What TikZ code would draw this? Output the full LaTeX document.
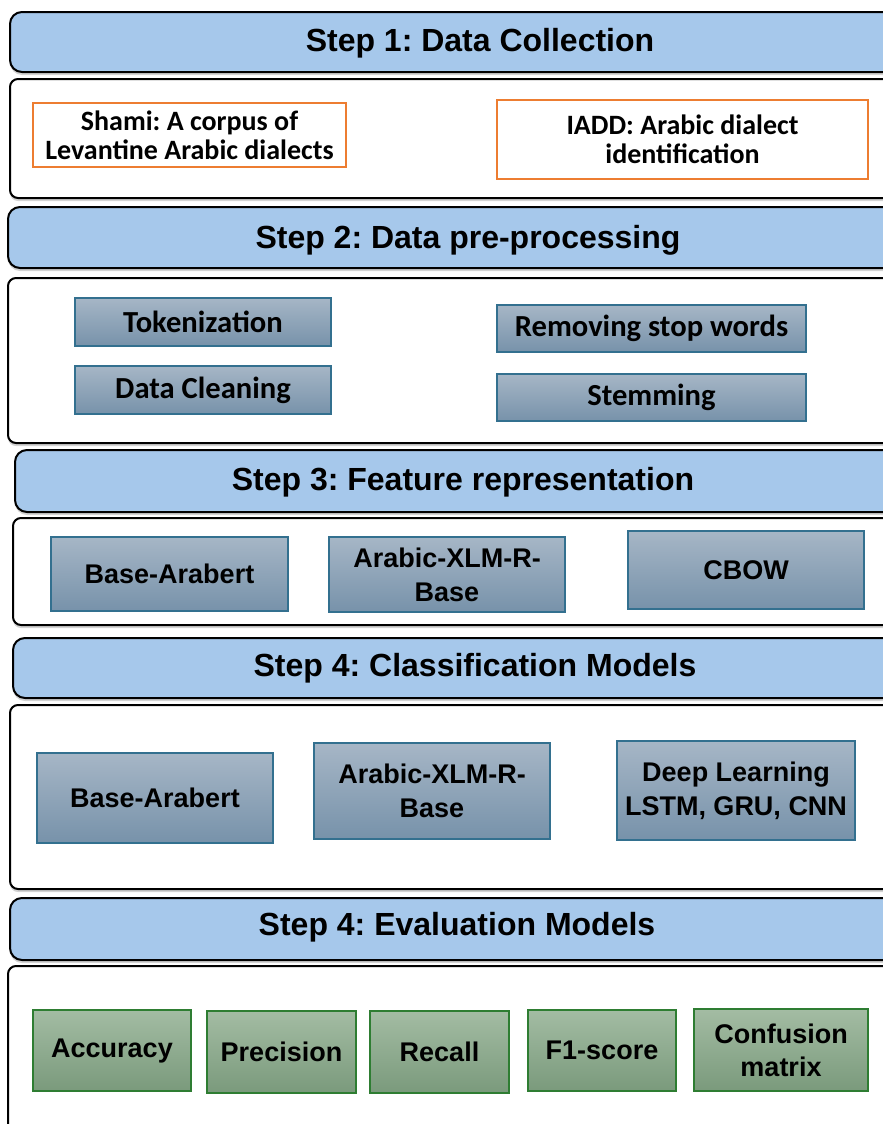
\documentclass[tikz,border=0pt]{standalone}
\usepackage{fontspec}
\setmainfont{Liberation Sans}
\newfontfamily\aptosfont{Carlito}
\usetikzlibrary{shadows}
\frenchspacing

\definecolor{headblue}{HTML}{A6C8EB}
\definecolor{srcorange}{HTML}{ED7D31}
\definecolor{boxedge}{HTML}{33708F}
\definecolor{boxtop}{HTML}{A6B6C6}
\definecolor{boxbot}{HTML}{7792AA}
\definecolor{greenedge}{HTML}{2E7D32}
\definecolor{greentop}{HTML}{A3BCA3}
\definecolor{greenbot}{HTML}{7A9A7C}

\tikzset{
  header/.style={draw=black, line width=1pt, fill=headblue, rounded corners=6pt,
    drop shadow={shadow xshift=0pt, shadow yshift=-1.5pt, opacity=.35}},
  panel/.style={draw=black, line width=1pt, fill=white, rounded corners=4pt,
    drop shadow={shadow xshift=0pt, shadow yshift=-1.5pt, opacity=.35}},
  headtext/.style={font=\fontsize{16}{18}\selectfont\bfseries},
  srcbox/.style={draw=srcorange, line width=.9pt, fill=white, inner sep=0pt, align=center,
    font=\aptosfont\fontsize{14}{14.5}\selectfont\bfseries},
  prepbox/.style={draw=boxedge, line width=.7pt, top color=boxtop, bottom color=boxbot,
    inner sep=0pt, align=center, font=\aptosfont\fontsize{15.3}{17}\selectfont\bfseries},
  modelbox/.style={draw=boxedge, line width=.7pt, top color=boxtop, bottom color=boxbot,
    inner sep=0pt, align=center, font=\fontsize{13.5}{17}\selectfont\bfseries},
  metricbox/.style={draw=greenedge, line width=.8pt, top color=greentop, bottom color=greenbot,
    inner sep=0pt, align=center, font=\fontsize{13.5}{16.5}\selectfont\bfseries}
}

\begin{document}
\begin{tikzpicture}[x=0.5pt,y=-0.5pt]
\useasboundingbox (0,0) rectangle (883,1124);
\clip (0,0) rectangle (883,1124);

% Step 1
\draw[header] (10,12) rectangle (900,72);
\node[headtext] (head1) at (480,43) {Step 1: Data Collection};
\draw[panel] (10,79) rectangle (900,198);
\node[srcbox, minimum width=156.5pt, minimum height=32pt] (shami) at (189.5,135)
  {Shami: A corpus of\\Levantine Arabic dialects};
\node[srcbox, minimum width=185.5pt, minimum height=39.5pt] (iadd) at (682.5,139.5)
  {IADD: Arabic dialect\\identification};

% Step 2
\draw[header] (8,207) rectangle (900,268);
\node[headtext] (head2) at (468,240) {Step 2: Data pre-processing};
\draw[panel] (8,278) rectangle (900,443);
\node[prepbox, minimum width=128pt, minimum height=24pt] (token) at (203,322) {Tokenization};
\node[prepbox, minimum width=128pt, minimum height=24pt] (clean) at (203,390) {Data Cleaning};
\node[prepbox, minimum width=154.5pt, minimum height=23.5pt] (stop) at (651.5,328.5) {Removing stop words};
\node[prepbox, minimum width=154.5pt, minimum height=23.5pt] (stem) at (651.5,397.5) {Stemming};

% Step 3
\draw[header] (15,450) rectangle (900,512);
\node[headtext] (head3) at (463,482) {Step 3: Feature representation};
\draw[panel] (13,518) rectangle (900,625);
\node[modelbox, minimum width=118.5pt, minimum height=37pt] (fbert) at (169.5,574) {Base-Arabert};
\node[modelbox, minimum width=118pt, minimum height=37.5pt] (fxlm) at (447,574.5) {Arabic-XLM-R-\\Base};
\node[modelbox, minimum width=118pt, minimum height=39pt] (cbow) at (746,570) {CBOW};

% Step 4
\draw[header] (13,638) rectangle (900,698);
\node[headtext] (head4) at (475,668) {Step 4: Classification Models};
\draw[panel] (10,705) rectangle (900,889);
\node[modelbox, minimum width=118pt, minimum height=45pt] (cbert) at (155,798) {Base-Arabert};
\node[modelbox, minimum width=118pt, minimum height=48pt] (cxlm) at (432,791) {Arabic-XLM-R-\\Base};
\node[modelbox, minimum width=119pt, minimum height=49.5pt] (deep) at (736,790.5) {Deep Learning\\LSTM, GRU, CNN};

% Step 5
\draw[header] (10,898) rectangle (900,960);
\node[headtext] (head5) at (457,927) {Step 4: Evaluation Models};
\draw[panel] (8,966) rectangle (900,1160);
\node[metricbox, minimum width=79pt, minimum height=40.5pt] (acc) at (112,1050.5) {Accuracy};
\node[metricbox, minimum width=74.5pt, minimum height=41pt] (prec) at (281.5,1052) {Precision};
\node[metricbox, minimum width=69.5pt, minimum height=41pt] (rec) at (439.5,1052) {Recall};
\node[metricbox, minimum width=74pt, minimum height=40.5pt] (fone) at (602,1050.5) {F1-score};
\node[metricbox, minimum width=87pt, minimum height=41pt] (conf) at (781,1050) {Confusion\\matrix};
\end{tikzpicture}
\end{document}
